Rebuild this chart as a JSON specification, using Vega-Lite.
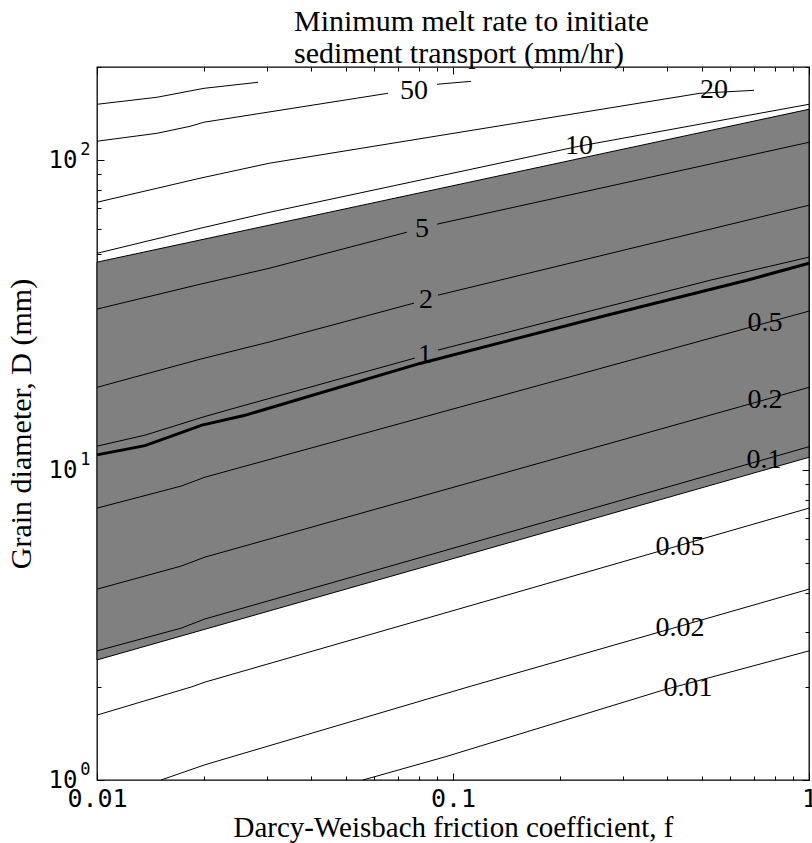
{
  "$schema": "https://vega.github.io/schema/vega-lite/v6.json",
  "width": 712,
  "height": 713,
  "autosize": {"type": "none"},
  "padding": {"left": 97, "top": 67, "right": 3, "bottom": 63},
  "background": "white",
  "config": {
    "view": {"stroke": "black", "strokeWidth": 1.3},
    "title": {"font": "Liberation Serif", "fontWeight": "normal", "color": "black"},
    "style": {"group-title": {"font": "Liberation Serif", "fontWeight": "normal"}},
    "axis": {
      "grid": false,
      "domain": false,
      "tickColor": "black",
      "tickWidth": 1,
      "labelFlush": false,
      "labelOverlap": false,
      "labelBound": false,
      "labelColor": "black",
      "labelFont": "DejaVu Sans Mono",
      "titleFont": "Liberation Serif",
      "titleFontWeight": "normal",
      "titleFontSize": 29,
      "titleColor": "black"
    }
  },
  "title": {
    "text": ["Minimum melt rate to initiate", "sediment transport (mm/hr)"],
    "font": "Liberation Serif",
    "fontSize": 30,
    "fontWeight": "normal",
    "fontStyle": "normal",
    "color": "black",
    "lineHeight": 32,
    "frame": "group",
    "anchor": "start",
    "align": "left",
    "dx": 197,
    "offset": -2
  },
  "datasets": {
    "band": [
      {"f": 0.01, "D_low": 2.44, "D_high": 46.9},
      {"f": 1, "D_low": 11.0, "D_high": 146.1}
    ],
    "contours": [
      {"seg": "100", "f": 0.01, "D": 151.6},
      {"seg": "100", "f": 0.01474, "D": 159.7},
      {"seg": "100", "f": 0.01998, "D": 170.7},
      {"seg": "100", "f": 0.02833, "D": 178.5},
      {"seg": "50a", "f": 0.01, "D": 115.2},
      {"seg": "50a", "f": 0.01474, "D": 122.2},
      {"seg": "50a", "f": 0.01825, "D": 128.7},
      {"seg": "50a", "f": 0.01998, "D": 132.7},
      {"seg": "50a", "f": 0.03266, "D": 145.0},
      {"seg": "50a", "f": 0.06567, "D": 164.5},
      {"seg": "50b", "f": 0.09018, "D": 175.9},
      {"seg": "50b", "f": 0.1124, "D": 179.8},
      {"seg": "20", "f": 0.01, "D": 73.2},
      {"seg": "20", "f": 0.01947, "D": 87.5},
      {"seg": "20", "f": 0.03042, "D": 97.8},
      {"seg": "20", "f": 0.4941, "D": 164.5},
      {"seg": "20", "f": 0.7007, "D": 168.2},
      {"seg": "10", "f": 0.01, "D": 50.1},
      {"seg": "10", "f": 0.01947, "D": 60.3},
      {"seg": "10", "f": 0.03042, "D": 67.9},
      {"seg": "10", "f": 0.2259, "D": 111.0},
      {"seg": "10", "f": 1, "D": 151.6},
      {"seg": "5a", "f": 0.01, "D": 33.1},
      {"seg": "5a", "f": 0.01947, "D": 39.8},
      {"seg": "5a", "f": 0.03042, "D": 44.8},
      {"seg": "5a", "f": 0.07427, "D": 58.6},
      {"seg": "5b", "f": 0.09018, "D": 62.2},
      {"seg": "5b", "f": 1, "D": 114.3},
      {"seg": "2a", "f": 0.01, "D": 18.5},
      {"seg": "2a", "f": 0.01947, "D": 22.8},
      {"seg": "2a", "f": 0.03042, "D": 25.9},
      {"seg": "2a", "f": 0.07771, "D": 34.6},
      {"seg": "2b", "f": 0.09076, "D": 36.7},
      {"seg": "2b", "f": 1, "D": 71.6},
      {"seg": "1a", "f": 0.01, "D": 11.95},
      {"seg": "1a", "f": 0.01364, "D": 12.97},
      {"seg": "1a", "f": 0.02011, "D": 14.9},
      {"seg": "1a", "f": 0.02489, "D": 15.97},
      {"seg": "1a", "f": 0.0782, "D": 23.0},
      {"seg": "1b", "f": 0.09076, "D": 24.4},
      {"seg": "1b", "f": 0.5272, "D": 41.0},
      {"seg": "1b", "f": 1, "D": 48.7},
      {"seg": "0.5", "f": 0.01, "D": 7.54},
      {"seg": "0.5", "f": 0.01722, "D": 8.88},
      {"seg": "0.5", "f": 0.02011, "D": 9.49},
      {"seg": "0.5", "f": 1, "D": 32.6},
      {"seg": "0.2", "f": 0.01, "D": 4.13},
      {"seg": "0.2", "f": 0.01722, "D": 4.9},
      {"seg": "0.2", "f": 0.02011, "D": 5.24},
      {"seg": "0.2", "f": 1, "D": 18.5},
      {"seg": "0.1", "f": 0.01, "D": 2.61},
      {"seg": "0.1", "f": 0.01722, "D": 3.09},
      {"seg": "0.1", "f": 0.02011, "D": 3.31},
      {"seg": "0.1", "f": 1, "D": 11.9},
      {"seg": "0.05", "f": 0.01, "D": 1.62},
      {"seg": "0.05", "f": 0.01849, "D": 2.0},
      {"seg": "0.05", "f": 0.02011, "D": 2.07},
      {"seg": "0.05", "f": 1, "D": 7.54},
      {"seg": "0.02", "f": 0.01513, "D": 1.0},
      {"seg": "0.02", "f": 0.02011, "D": 1.12},
      {"seg": "0.02", "f": 0.1109, "D": 2.0},
      {"seg": "0.02", "f": 1, "D": 4.13},
      {"seg": "0.01", "f": 0.05586, "D": 1.0},
      {"seg": "0.01", "f": 0.09557, "D": 1.19},
      {"seg": "0.01", "f": 0.389, "D": 1.95},
      {"seg": "0.01", "f": 1, "D": 2.61}
    ],
    "threshold": [
      {"f": 0.01, "D": 11.2},
      {"f": 0.01364, "D": 12.0},
      {"f": 0.01972, "D": 13.97},
      {"f": 0.02588, "D": 15.0},
      {"f": 0.08078, "D": 22.1},
      {"f": 0.2588, "D": 31.2},
      {"f": 0.6696, "D": 41.0},
      {"f": 1, "D": 46.5}
    ],
    "labels": [
      {"text": "50", "f": 0.0777, "D": 167.0},
      {"text": "20", "f": 0.541, "D": 168.2},
      {"text": "10", "f": 0.2259, "D": 111.0},
      {"text": "5", "f": 0.0818, "D": 59.9},
      {"text": "2", "f": 0.084, "D": 35.4},
      {"text": "1", "f": 0.0834, "D": 23.5},
      {"text": "0.5", "f": 0.7523, "D": 29.8},
      {"text": "0.2", "f": 0.7523, "D": 16.8},
      {"text": "0.1", "f": 0.7475, "D": 10.8},
      {"text": "0.05", "f": 0.4341, "D": 5.64},
      {"text": "0.02", "f": 0.4341, "D": 3.09},
      {"text": "0.01", "f": 0.4573, "D": 1.98}
    ]
  },
  "layer": [
    {
      "data": {"name": "band"},
      "mark": {"type": "area", "color": "#808080", "stroke": "black", "strokeWidth": 1},
      "encoding": {
        "x": {
          "field": "f", "type": "quantitative",
          "scale": {"type": "log", "domain": [0.01, 1], "nice": false},
          "axis": {
            "orient": "bottom", "values": [0.01, 0.1, 1], "tickSize": -7,
            "labelPadding": 13, "labelFontSize": 25,
            "labelExpr": "datum.value < 0.05 ? '0.01' : datum.value < 0.5 ? '0.1' : '1'",
            "title": "Darcy-Weisbach friction coefficient, f", "titlePadding": 2
          }
        },
        "y": {
          "field": "D_low", "type": "quantitative",
          "scale": {"type": "log", "domain": [1, 200], "nice": false},
          "axis": {
            "orient": "left", "values": [1, 10, 100], "tickSize": -7,
            "labelPadding": 27, "labelFontSize": 24, "labelAlign": "right",
            "labelExpr": "'10'",
            "title": "Grain diameter, D (mm)", "titleFontSize": 30, "titlePadding": 12
          }
        },
        "y2": {"field": "D_high"}
      }
    },
    {
      "data": {"name": "contours"},
      "transform": [{"filter": "indexof(['100', '50a', '50b', '20', '10'], datum.seg) >= 0"}],
      "mark": {"type": "line", "color": "black", "strokeWidth": 1},
      "encoding": {
        "x": {
          "field": "f", "type": "quantitative",
          "scale": {"type": "log", "domain": [0.01, 1], "nice": false},
          "axis": {
            "orient": "bottom",
            "values": [0.02, 0.03, 0.04, 0.05, 0.06, 0.07, 0.08, 0.09, 0.2, 0.3, 0.4, 0.5, 0.6, 0.7, 0.8, 0.9],
            "tickSize": -4, "labels": false, "title": null
          }
        },
        "y": {
          "field": "D", "type": "quantitative",
          "scale": {"type": "log", "domain": [1, 200], "nice": false},
          "axis": {
            "orient": "left",
            "values": [2, 3, 4, 5, 6, 7, 8, 9, 20, 30, 40, 50, 60, 70, 80, 90, 200],
            "tickSize": -4, "labels": false, "title": null
          }
        },
        "detail": {"field": "seg", "type": "nominal"}
      }
    },
    {
      "data": {"name": "contours"},
      "transform": [{"filter": "indexof(['100', '50a', '50b', '20', '10'], datum.seg) < 0"}],
      "mark": {"type": "line", "color": "black", "strokeWidth": 1},
      "encoding": {
        "x": {
          "field": "f", "type": "quantitative",
          "scale": {"type": "log", "domain": [0.01, 1], "nice": false},
          "axis": null
        },
        "y": {
          "field": "D", "type": "quantitative",
          "scale": {"type": "log", "domain": [1, 200], "nice": false},
          "axis": {
            "orient": "left", "values": [1, 10, 100], "ticks": false, "tickSize": 0,
            "labelPadding": 7, "labelOffset": -11, "labelFontSize": 17, "labelAlign": "right",
            "labelExpr": "datum.value < 5 ? '0' : datum.value < 50 ? '1' : '2'",
            "title": null
          }
        },
        "detail": {"field": "seg", "type": "nominal"}
      }
    },
    {
      "data": {"name": "threshold"},
      "mark": {"type": "line", "color": "black", "strokeWidth": 3},
      "encoding": {
        "x": {
          "field": "f", "type": "quantitative",
          "scale": {"type": "log", "domain": [0.01, 1], "nice": false},
          "axis": {"orient": "top", "values": [0.01, 0.1, 1], "tickSize": -7, "labels": false, "title": null}
        },
        "y": {
          "field": "D", "type": "quantitative",
          "scale": {"type": "log", "domain": [1, 200], "nice": false},
          "axis": {"orient": "right", "values": [1, 10, 100], "tickSize": -7, "labels": false, "title": null}
        }
      }
    },
    {
      "data": {"name": "labels"},
      "mark": {"type": "text", "font": "Liberation Serif", "fontSize": 28, "color": "black", "align": "center", "baseline": "middle"},
      "encoding": {
        "x": {
          "field": "f", "type": "quantitative",
          "scale": {"type": "log", "domain": [0.01, 1], "nice": false},
          "axis": {
            "orient": "top",
            "values": [0.02, 0.03, 0.04, 0.05, 0.06, 0.07, 0.08, 0.09, 0.2, 0.3, 0.4, 0.5, 0.6, 0.7, 0.8, 0.9],
            "tickSize": -4, "labels": false, "title": null
          }
        },
        "y": {
          "field": "D", "type": "quantitative",
          "scale": {"type": "log", "domain": [1, 200], "nice": false},
          "axis": {
            "orient": "right",
            "values": [2, 3, 4, 5, 6, 7, 8, 9, 20, 30, 40, 50, 60, 70, 80, 90, 200],
            "tickSize": -4, "labels": false, "title": null
          }
        },
        "text": {"field": "text", "type": "nominal"}
      }
    }
  ],
  "resolve": {"axis": {"x": "independent", "y": "independent"}}
}
